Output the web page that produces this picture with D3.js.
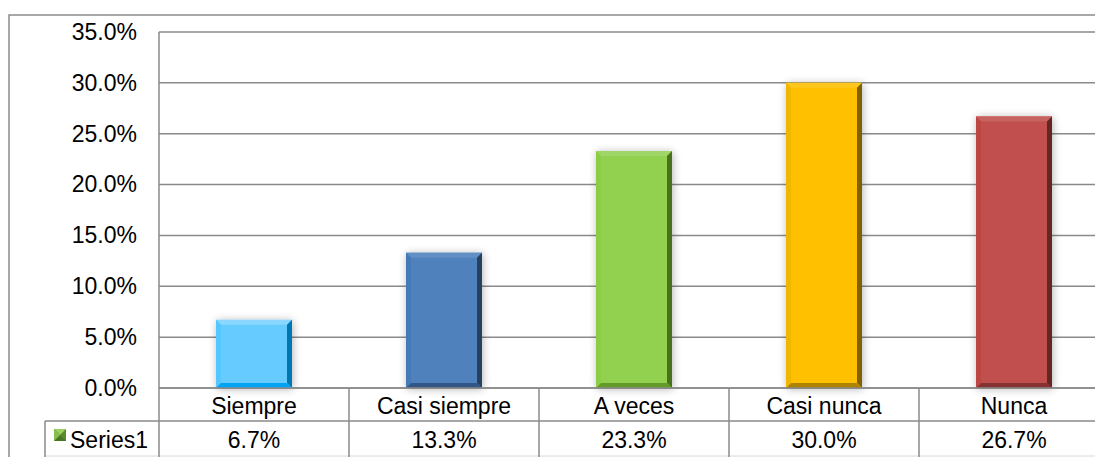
<!DOCTYPE html>
<html>
<head>
<meta charset="utf-8">
<script src="https://cdn.jsdelivr.net/npm/d3@7"></script>
<style>
body{margin:0;background:#fff;}
svg{display:block;font-family:"Liberation Sans",Arial,sans-serif;}
</style>
</head>
<body>
<div id="chart"></div>
<script>
// chart data
let categories = ["Siempre","Casi siempre","A veces","Casi nunca","Nunca"];
let values = [0.067,0.133,0.233,0.300,0.267];
let colors = ["#66CCFF","#4F81BD","#92D050","#FFC000","#C0504D"];
let seriesName = "Series1";
let yTicks = [0,0.05,0.10,0.15,0.20,0.25,0.30,0.35];

let W = 1095, H = 457;
let plotLeft = 159, plotRight = 1109, plotTop = 32, base = 388;
let rowH = 33;
let fs = "23px";

let svg = d3.select("#chart").append("svg").attr("width",W).attr("height",H);

let defs = svg.append("defs");
let f = defs.append("filter").attr("id","shadow").attr("x","-30%").attr("y","-30%").attr("width","160%").attr("height","160%");
f.append("feGaussianBlur").attr("in","SourceAlpha").attr("stdDeviation",4).attr("result","b");
f.append("feOffset").attr("in","b").attr("dx",1).attr("dy",1).attr("result","o");
f.append("feComponentTransfer").attr("in","o").attr("result","s")
	.append("feFuncA").attr("type","linear").attr("slope",0.3);
let m = f.append("feMerge");
m.append("feMergeNode").attr("in","s");
m.append("feMergeNode").attr("in","SourceGraphic");

// outer frame
svg.append("path").attr("d","M9,"+(H+5)+"V15H"+(W+5))
	.attr("fill","none").attr("stroke","#8c8c8c").attr("stroke-width",1.5);

let x = d3.scaleBand().domain(categories).range([plotLeft,plotRight]).paddingInner(0.6).paddingOuter(0.3);
let y = d3.scaleLinear().domain([0,0.35]).range([base,plotTop]);

// gridlines
svg.append("g").selectAll("line").data(yTicks).enter().append("line")
	.attr("x1",plotLeft).attr("x2",W+5)
	.attr("y1",d=>y(d)).attr("y2",d=>y(d))
	.attr("stroke","#8a8a8a").attr("stroke-width",1.5);
svg.append("line").attr("x1",plotLeft).attr("x2",plotLeft).attr("y1",plotTop).attr("y2",base)
	.attr("stroke","#8a8a8a").attr("stroke-width",1.5);

// y axis labels
let yAxis = d3.axisLeft(y).tickValues(yTicks).tickFormat(d3.format(".1%")).tickSize(0).tickPadding(22);
let ga = svg.append("g").attr("transform","translate("+plotLeft+",0)").call(yAxis);
ga.select(".domain").remove();
ga.selectAll("text").style("font-size",fs).style("font-family","'Liberation Sans',Arial,sans-serif").attr("fill","#000");

// bars with bevel
let bev = 5;
function shade(c,k){ let h=d3.hsl(c); h.l = Math.max(0,Math.min(1,h.l*k)); return h.formatHex(); }
let bars = svg.append("g").selectAll("g").data(categories).enter().append("g").attr("filter","url(#shadow)");
bars.each(function(d,i){
	let g = d3.select(this);
	let x0 = x(d), x1 = x(d)+x.bandwidth(), y0 = y(values[i]), y1 = y(0);
	let c = colors[i];
	g.append("rect").attr("x",x0).attr("y",y0).attr("width",x1-x0).attr("height",y1-y0).attr("fill",c);
	let poly = (pts,col)=>g.append("polygon").attr("points",pts.map(p=>p.join(",")).join(" ")).attr("fill",col);
	poly([[x0,y0],[x1,y0],[x1-bev,y0+bev],[x0+bev,y0+bev]], shade(c,1.1));
	poly([[x0,y0],[x0+bev,y0+bev],[x0+bev,y1-bev],[x0,y1]], shade(c,0.95));
	poly([[x1,y0],[x1,y1],[x1-bev,y1-bev],[x1-bev,y0+bev]], shade(c,0.5));
	poly([[x0,y1],[x0+bev,y1-bev],[x1-bev,y1-bev],[x1,y1]], shade(c,0.68));
});

// data table
let tg = svg.append("g");
let lineCol = "#8a8a8a";
tg.append("line").attr("x1",plotLeft).attr("x2",W+5).attr("y1",base).attr("y2",base).attr("stroke",lineCol).attr("stroke-width",1.5);
tg.append("line").attr("x1",45).attr("x2",W+5).attr("y1",base+rowH).attr("y2",base+rowH).attr("stroke",lineCol).attr("stroke-width",1.5);
tg.append("line").attr("x1",45).attr("x2",W+5).attr("y1",456).attr("y2",456).attr("stroke","#d8d8d8").attr("stroke-width",1);
tg.append("line").attr("x1",45).attr("x2",45).attr("y1",base+rowH).attr("y2",H+5).attr("stroke",lineCol).attr("stroke-width",1.5);
let step = x.step();
let bounds = categories.map((d,i)=>plotLeft+step*i).concat([plotLeft+step*categories.length]);
tg.selectAll(".vl").data(bounds).enter().append("line")
	.attr("x1",d=>d).attr("x2",d=>d).attr("y1",base).attr("y2",H+5)
	.attr("stroke",lineCol).attr("stroke-width",1.5);

tg.selectAll(".cat").data(categories).enter().append("text")
	.attr("x",d=>x(d)+x.bandwidth()/2).attr("y",base+26)
	.attr("text-anchor","middle").style("font-size",fs).text(d=>d);
tg.selectAll(".val").data(values).enter().append("text")
	.attr("x",(d,i)=>x(categories[i])+x.bandwidth()/2).attr("y",base+rowH+27)
	.attr("text-anchor","middle").style("font-size",fs).text(d=>d3.format(".1%")(d));

// legend key
let kx = 54, ky = 429, ks = 12;
tg.append("rect").attr("x",kx).attr("y",ky).attr("width",ks).attr("height",ks).attr("fill","#5a8a2e");
tg.append("polygon").attr("points",[[kx,ky],[kx+ks,ky],[kx+ks/2,ky+ks/2]].map(p=>p.join(",")).join(" ")).attr("fill","#9bd060");
tg.append("polygon").attr("points",[[kx,ky+ks],[kx+ks,ky+ks],[kx+ks/2,ky+ks/2]].map(p=>p.join(",")).join(" ")).attr("fill","#4a7426");
tg.append("polygon").attr("points",[[kx,ky],[kx,ky+ks],[kx+ks/2,ky+ks/2]].map(p=>p.join(",")).join(" ")).attr("fill","#86c04a");
tg.append("text").attr("x",70).attr("y",base+rowH+27).style("font-size",fs).text(seriesName);
</script>
</body>
</html>
